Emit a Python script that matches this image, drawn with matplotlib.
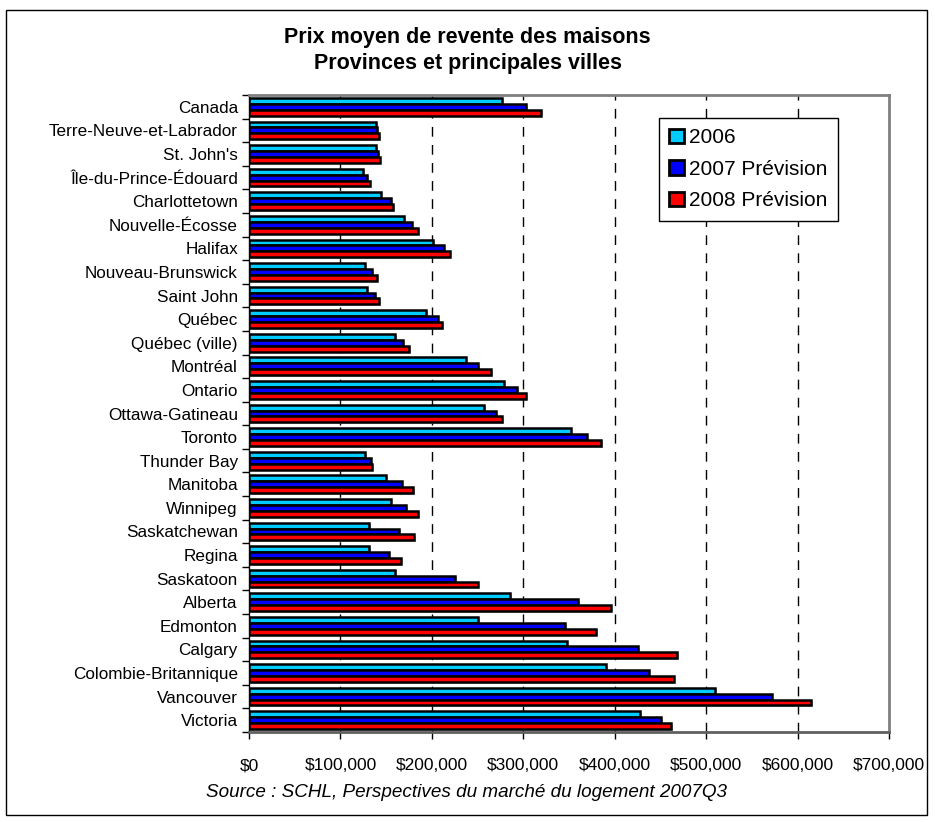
import numpy as np
import matplotlib.pyplot as plt
import matplotlib.patheffects as pe
from matplotlib.patches import Rectangle
from matplotlib.ticker import FuncFormatter, MultipleLocator

plt.rcParams['font.family'] = ['Liberation Sans', 'DejaVu Sans']

# donnees (dollars)
villes = ["Canada", "Terre-Neuve-et-Labrador", "St. John's", "Île-du-Prince-Édouard",
          "Charlottetown", "Nouvelle-Écosse", "Halifax", "Nouveau-Brunswick", "Saint John",
          "Québec", "Québec (ville)", "Montréal", "Ontario", "Ottawa-Gatineau", "Toronto",
          "Thunder Bay", "Manitoba", "Winnipeg", "Saskatchewan", "Regina", "Saskatoon",
          "Alberta", "Edmonton", "Calgary", "Colombie-Britannique", "Vancouver", "Victoria"]
prix_2006 = [277000, 139000, 139000, 125000, 144000, 169500, 201500, 126500, 128700,
             194000, 160000, 237000, 278500, 257500, 352000, 127000, 150000, 155000,
             131600, 131600, 160000, 285800, 251000, 347600, 391000, 510000, 427500]
prix_2007 = [303000, 140000, 141000, 129000, 155600, 178000, 213000, 134500, 138000,
             206500, 168700, 251000, 293000, 270000, 369500, 133000, 167000, 172000,
             164000, 152700, 225500, 360000, 345500, 426000, 437000, 571700, 450700]
prix_2008 = [319000, 142500, 143000, 132000, 158000, 185000, 219600, 139600, 142500,
             211000, 175000, 264700, 303000, 277000, 385000, 135000, 179600, 185000,
             181000, 165800, 250000, 395600, 380000, 468000, 464500, 615000, 462000]
series = ["2006", "2007 Prévision", "2008 Prévision"]
couleurs = ["#00CCFF", "#0000FF", "#FF0000"]

W, H = 935, 822
fig = plt.figure(figsize=(W / 100, H / 100), dpi=100)
ax = fig.add_axes([249 / W, 1 - 732 / H, (889 - 249) / W, (732 - 95) / H])

ombre = [pe.SimplePatchShadow(offset=(1.2, -1.2), shadow_rgbFace="#999999", alpha=0.6), pe.Normal()]
y = np.arange(len(villes))
h = 0.25
for k, vals in enumerate([prix_2006, prix_2007, prix_2008]):
    ax.barh(y + (k - 1) * h, vals, height=h, color=couleurs[k], edgecolor="black",
            linewidth=1.8, label=series[k], zorder=3, path_effects=ombre)

ax.set_xlim(0, 700000)
ax.set_ylim(len(villes) - 0.5, -0.5)
ax.xaxis.set_major_locator(MultipleLocator(100000))
ax.xaxis.set_major_formatter(FuncFormatter(lambda v, p: "${:,.0f}".format(v)))
ax.set_yticks(y)
ax.set_yticklabels(villes, fontsize=12.3)
ax.set_yticks(np.arange(len(villes) + 1) - 0.5, minor=True)
ax.tick_params(axis="y", which="major", length=0, pad=8)
ax.tick_params(axis="y", which="minor", length=5, width=1, direction="out")
ax.tick_params(axis="x", length=5, width=1, direction="out", labelsize=12.5, pad=14)

for v in range(100000, 700000, 100000):
    ax.axvline(v, color="black", linewidth=1, linestyle=(0, (7, 6)), zorder=1)

for s in ["top", "right"]:
    ax.spines[s].set_color("#808080")
    ax.spines[s].set_linewidth(2)
ax.spines["bottom"].set_color("#606060")
ax.spines["bottom"].set_linewidth(2)
ax.spines["left"].set_color("black")
ax.spines["left"].set_linewidth(1)

leg = fig.legend(loc="upper left", bbox_to_anchor=(659 / W, 1 - 118 / H), fontsize=15,
                 frameon=True, fancybox=False, edgecolor="black", framealpha=1,
                 handlelength=0.7, handleheight=0.7, handletextpad=0.25,
                 labelspacing=0.6, borderpad=0.5, borderaxespad=0)
leg.get_frame().set_linewidth(1)
for p in leg.get_patches():
    p.set_path_effects([])
    p.set_linewidth(2)

fig.text(0.5, 1 - 37 / H, "Prix moyen de revente des maisons", ha="center", va="center",
         fontsize=15.5, fontweight="bold")
fig.text(0.5, 1 - 63 / H, "Provinces et principales villes", ha="center", va="center",
         fontsize=15.5, fontweight="bold")
fig.text(206 / W, 1 - 792 / H, "Source : SCHL, Perspectives du marché du logement 2007Q3",
         ha="left", va="center", fontsize=13.6, style="italic")

fig.patches.append(Rectangle((6 / W, 1 - 815 / H), 921 / W, 805 / H, transform=fig.transFigure,
                             fill=False, edgecolor="black", linewidth=1))

fig.savefig("out.png", dpi=100)
